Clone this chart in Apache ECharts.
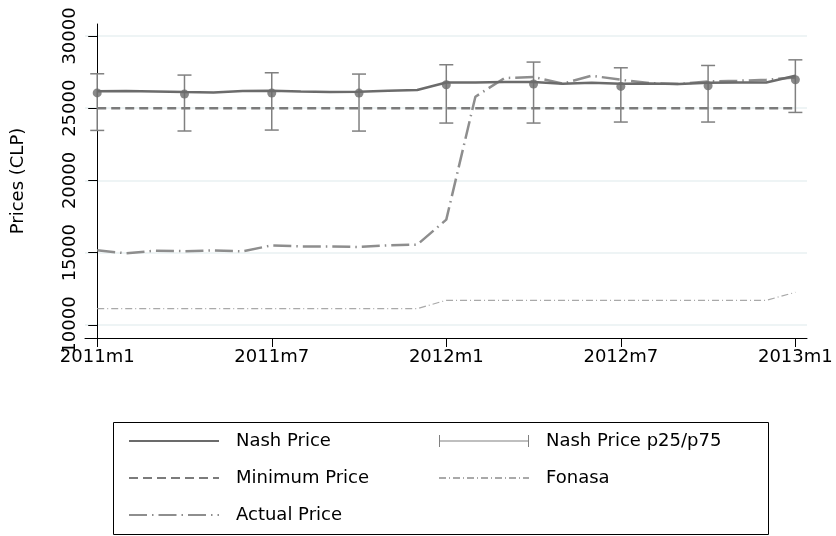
<!DOCTYPE html>
<html>
<head>
<meta charset="utf-8">
<script src="https://cdn.jsdelivr.net/npm/echarts@6/dist/echarts.min.js"></script>
<style>
  html, body { margin: 0; padding: 0; background: #fff; }
  #chart { width: 836px; height: 536px; }
</style>
</head>
<body>
<div id="chart"></div>
<script>
// months since 2011m1
const months = [0, 1, 2, 3, 4, 5, 6, 7, 8, 9, 10, 11, 12, 13, 14, 15, 16, 17, 18, 19, 20, 21, 22, 23, 24];
const nashPrice = [26180, 26200, 26160, 26120, 26090, 26190, 26210, 26160, 26120, 26140, 26210, 26260,
  26785, 26785, 26820, 26810, 26700, 26760, 26700, 26720, 26670, 26760, 26785, 26785, 27250];
const minimumPrice = [25000, 25000, 25000, 25000, 25000, 25000, 25000, 25000, 25000, 25000, 25000, 25000,
  25000, 25000, 25000, 25000, 25000, 25000, 25000, 25000, 25000, 25000, 25000, 25000, 25000];
const actualPrice = [15170, 14960, 15140, 15110, 15160, 15100, 15510, 15440, 15440, 15400, 15510, 15560,
  17290, 25800, 27090, 27160, 26700, 27250, 26970, 26740, 26670, 26860, 26900, 26970, 27130];
const fonasa = [11130, 11130, 11130, 11130, 11130, 11130, 11130, 11130, 11130, 11130, 11130, 11130,
  11710, 11710, 11710, 11710, 11710, 11710, 11710, 11710, 11710, 11710, 11710, 11710, 12260];

// quarterly Nash price points with p25 / p75
const quarterMonths = [0, 3, 6, 9, 12, 15, 18, 21, 24];
const nashQuarter = [26060, 25980, 26050, 26050, 26625, 26675, 26510, 26555, 26970];
const nashP25 = [23465, 23425, 23490, 23420, 23975, 23975, 24045, 24045, 24710];
const nashP75 = [27385, 27295, 27455, 27365, 28010, 28195, 27800, 27960, 28350];

const xTickValues = [0, 6, 12, 18, 24];
const xTickLabels = ['2011m1', '2011m7', '2012m1', '2012m7', '2013m1'];
const yTickValues = [10000, 15000, 20000, 25000, 30000];

const FONT = 'DejaVu Sans';

const chart = echarts.init(document.getElementById('chart'));

const zip = (xs, ys) => xs.map((x, i) => [x, ys[i]]);

const legendBase = {
  orient: 'vertical',
  top: 427,
  itemWidth: 90,
  itemHeight: 12,
  itemGap: 19,
  textStyle: { fontSize: 18, fontFamily: FONT, color: '#000', padding: [0, 0, 0, 12] },
  itemStyle: { opacity: 0, borderWidth: 0 },
  lineStyle: { width: 2 },
};

chart.setOption({
  animation: false,
  textStyle: { fontFamily: FONT, color: '#000' },
  grid: { left: 85, right: 29, top: 24, bottom: 198, outerBoundsMode: 'none', containLabel: false },
  xAxis: {
    type: 'value',
    min: -0.42,
    max: 24.4,
    axisLine: { lineStyle: { color: '#000', width: 1 } },
    axisTick: { customValues: xTickValues, length: 9, lineStyle: { color: '#000' } },
    axisLabel: {
      customValues: xTickValues,
      fontSize: 18,
      fontFamily: FONT,
      color: '#000',
      margin: 10,
      formatter: (v) => xTickLabels[xTickValues.indexOf(v)],
    },
    splitLine: { show: false },
  },
  yAxis: {
    type: 'value',
    min: 9100,
    max: 30830,
    name: 'Prices (CLP)',
    nameLocation: 'middle',
    nameGap: 58,
    nameTextStyle: { fontSize: 18, fontFamily: FONT, color: '#000' },
    axisLine: { show: true, lineStyle: { color: '#000', width: 1 } },
    axisTick: { show: true, customValues: yTickValues, length: 9, lineStyle: { color: '#000' } },
    axisLabel: {
      customValues: yTickValues,
      rotate: 90,
      fontSize: 18,
      fontFamily: FONT,
      color: '#000',
      margin: 6,
      formatter: (v) => String(v),
    },
    splitLine: { show: true, lineStyle: { color: '#e8f0f2', width: 1.5 } },
  },
  legend: [
    Object.assign({}, legendBase, {
      left: 123,
      data: ['Nash Price', 'Minimum Price', 'Actual Price'],
    }),
    Object.assign({}, legendBase, {
      left: 433,
      data: [
        {
          name: 'Nash Price p25/p75',
          icon: 'path://M0,0h1v12h-1z M0,5.5h90v1h-90z M89,0h1v12h-1z',
          itemStyle: { opacity: 1, color: '#808080' },
        },
        'Fonasa',
      ],
    }),
  ],
  graphic: [
    {
      type: 'rect',
      shape: { x: 113.5, y: 422.5, width: 655, height: 112 },
      style: { fill: 'none', stroke: '#000', lineWidth: 1 },
      silent: true,
    },
  ],
  series: [
    {
      name: 'Fonasa',
      type: 'line',
      data: zip(months, fonasa),
      symbol: 'none',
      lineStyle: { color: '#a9a9a9', width: 1.2, type: [7, 3, 1, 3] },
      itemStyle: { color: '#a9a9a9' },
      z: 2,
    },
    {
      name: 'Actual Price',
      type: 'line',
      data: zip(months, actualPrice),
      symbol: 'none',
      lineStyle: { color: '#8e8e8e', width: 2.5, type: [18, 5, 1.5, 5] },
      itemStyle: { color: '#8e8e8e' },
      z: 3,
    },
    {
      name: 'Minimum Price',
      type: 'line',
      data: zip(months, minimumPrice),
      symbol: 'none',
      lineStyle: { color: '#7b7b7b', width: 2.5, type: [9, 5] },
      itemStyle: { color: '#7b7b7b' },
      z: 3,
    },
    {
      name: 'Nash Price p25/p75',
      type: 'custom',
      data: quarterMonths.map((m, i) => [m, nashP25[i], nashP75[i]]),
      itemStyle: { color: '#808080' },
      renderItem: (params, api) => {
        const lo = api.coord([api.value(0), api.value(1)]);
        const hi = api.coord([api.value(0), api.value(2)]);
        const half = 7;
        const style = { stroke: '#808080', lineWidth: 1.5, fill: null };
        return {
          type: 'group',
          children: [
            { type: 'line', shape: { x1: lo[0], y1: lo[1], x2: hi[0], y2: hi[1] }, style },
            { type: 'line', shape: { x1: lo[0] - half, y1: lo[1], x2: lo[0] + half, y2: lo[1] }, style },
            { type: 'line', shape: { x1: hi[0] - half, y1: hi[1], x2: hi[0] + half, y2: hi[1] }, style },
          ],
        };
      },
      z: 4,
    },
    {
      name: 'Nash Price',
      type: 'line',
      data: zip(months, nashPrice),
      symbol: 'none',
      lineStyle: { color: '#6b6b6b', width: 2.5 },
      itemStyle: { color: '#6b6b6b' },
      z: 5,
    },
    {
      name: 'Nash quarterly',
      type: 'scatter',
      data: zip(quarterMonths, nashQuarter),
      symbolSize: 9,
      itemStyle: { color: '#6b6b6b' },
      z: 6,
    },
  ],
});
</script>
</body>
</html>
